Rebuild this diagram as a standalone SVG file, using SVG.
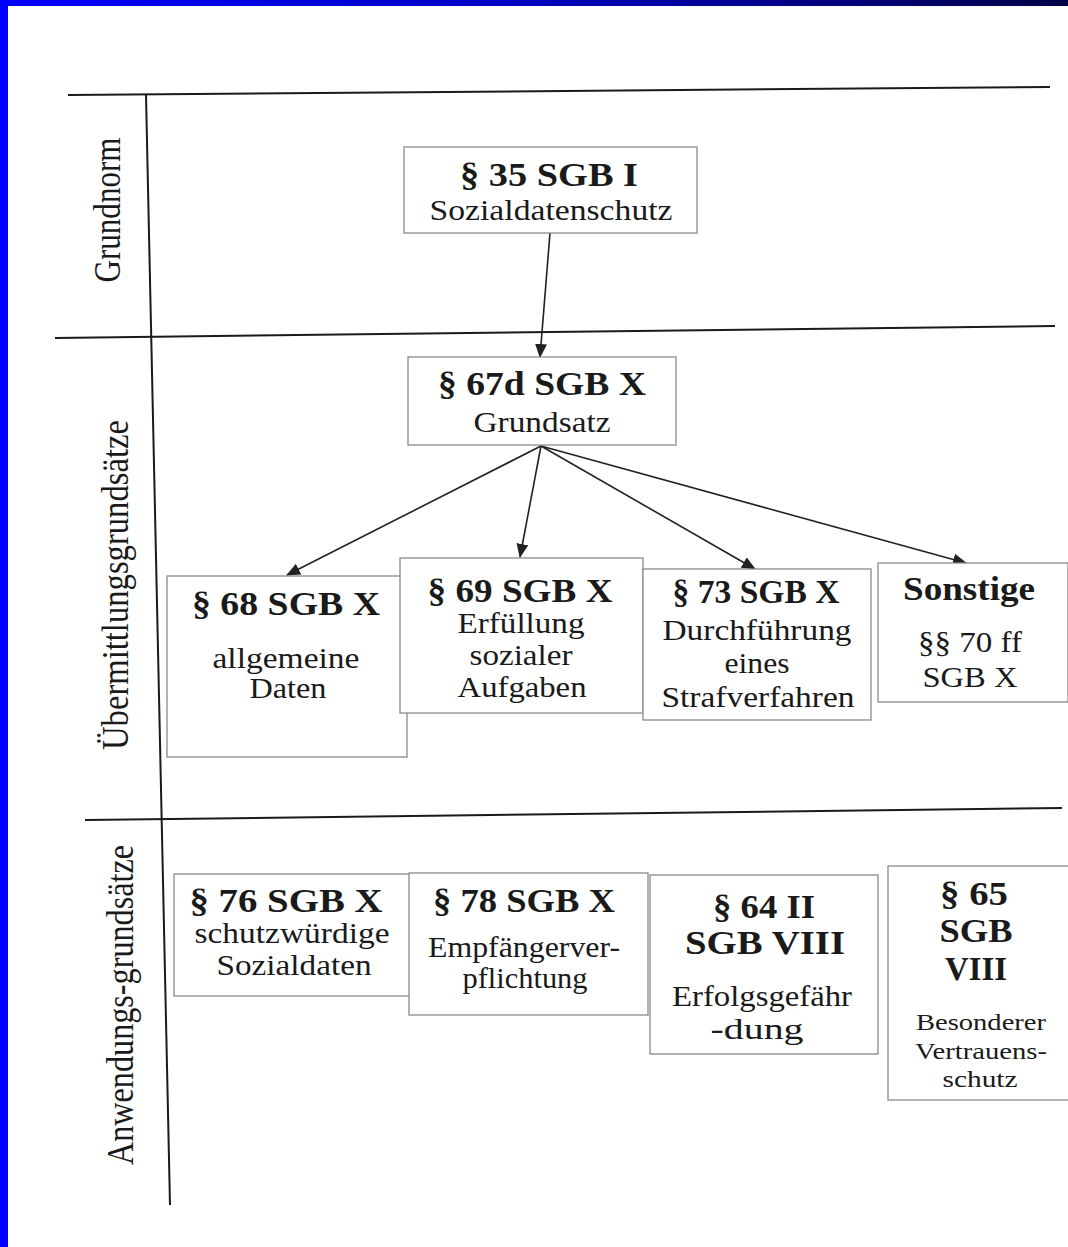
<svg xmlns="http://www.w3.org/2000/svg" width="1068" height="1247" viewBox="0 0 1068 1247">
<defs>
<linearGradient id="topbar" x1="0" y1="0" x2="1" y2="0">
<stop offset="0" stop-color="#0000ff"/>
<stop offset="0.5" stop-color="#0000c0"/>
<stop offset="1" stop-color="#000048"/>
</linearGradient>
<marker id="arr" markerWidth="14" markerHeight="12" refX="13" refY="6" orient="auto" markerUnits="userSpaceOnUse">
<path d="M0,0 L14,6 L0,12 Z" fill="#222"/>
</marker>
<style>
.frame{stroke:#1a1a1a;stroke-width:2;fill:none}
.box{fill:#fff;stroke:#8a8a8a;stroke-width:1.3}
.t{font-family:"Liberation Serif","Times New Roman",serif;fill:#1a1a1a;text-anchor:middle}
.b{font-weight:bold;font-size:34px}
.r{font-size:30px}
.s{font-size:24px}
.lab{font-family:"Liberation Serif","Times New Roman",serif;fill:#1a1a1a;font-size:38px;text-anchor:middle}
.con{stroke:#222;stroke-width:1.6;fill:none;marker-end:url(#arr)}
</style>
</defs>
<rect x="0" y="0" width="1068" height="1247" fill="#fff"/>
<rect x="0" y="0" width="1068" height="6" fill="url(#topbar)"/>
<rect x="0" y="0" width="8" height="1247" fill="#0000ff"/>

<g id="frame">
<line class="frame" x1="68" y1="95" x2="1050" y2="87"/>
<line class="frame" x1="55" y1="338" x2="1055" y2="326"/>
<line class="frame" x1="85" y1="820" x2="1062" y2="808"/>
<line class="frame" x1="146" y1="95" x2="170" y2="1205"/>
</g>

<g id="row-labels">
<text class="lab" transform="translate(120,210) rotate(-90)" textLength="145" lengthAdjust="spacingAndGlyphs">Grundnorm</text>
<text class="lab" transform="translate(128,585) rotate(-90)" textLength="330" lengthAdjust="spacingAndGlyphs">Übermittlungsgrundsätze</text>
<text class="lab" transform="translate(133,1005) rotate(-90)" textLength="320" lengthAdjust="spacingAndGlyphs">Anwendungs-grundsätze</text>
</g>

<g id="connectors">
<line class="con" x1="550" y1="233" x2="540" y2="357"/>
<line class="con" x1="541" y1="446" x2="287" y2="575"/>
<line class="con" x1="541" y1="446" x2="520" y2="557"/>
<line class="con" x1="541" y1="446" x2="755" y2="569"/>
<line class="con" x1="541" y1="446" x2="966" y2="563"/>
</g>

<g id="n35">
<rect class="box" x="404" y="147" width="293" height="86"/>
<text class="t b" x="549" y="186" textLength="178" lengthAdjust="spacingAndGlyphs">§ 35 SGB I</text>
<text class="t r" x="551" y="220" textLength="243" lengthAdjust="spacingAndGlyphs">Sozialdatenschutz</text>
</g>

<g id="n67d">
<rect class="box" x="408" y="357" width="268" height="88"/>
<text class="t b" x="542" y="395" textLength="208" lengthAdjust="spacingAndGlyphs">§ 67d SGB X</text>
<text class="t r" x="542" y="432" textLength="137" lengthAdjust="spacingAndGlyphs">Grundsatz</text>
</g>

<g id="n68">
<rect class="box" x="167" y="576" width="240" height="181"/>
<text class="t b" x="286" y="615" textLength="188" lengthAdjust="spacingAndGlyphs">§ 68 SGB X</text>
<text class="t r" x="286" y="668" textLength="147" lengthAdjust="spacingAndGlyphs">allgemeine</text>
<text class="t r" x="288" y="698" textLength="77" lengthAdjust="spacingAndGlyphs">Daten</text>
</g>

<g id="n69">
<rect class="box" x="400" y="558" width="243" height="155"/>
<text class="t b" x="520" y="602" textLength="185" lengthAdjust="spacingAndGlyphs">§ 69 SGB X</text>
<text class="t r" x="521" y="633" textLength="127" lengthAdjust="spacingAndGlyphs">Erfüllung</text>
<text class="t r" x="521" y="665" textLength="103" lengthAdjust="spacingAndGlyphs">sozialer</text>
<text class="t r" x="522" y="697" textLength="129" lengthAdjust="spacingAndGlyphs">Aufgaben</text>
</g>

<g id="n73">
<rect class="box" x="643" y="569" width="228" height="151"/>
<text class="t b" x="756" y="603" textLength="167" lengthAdjust="spacingAndGlyphs">§ 73 SGB X</text>
<text class="t r" x="757" y="640" textLength="189" lengthAdjust="spacingAndGlyphs">Durchführung</text>
<text class="t r" x="757" y="673" textLength="65" lengthAdjust="spacingAndGlyphs">eines</text>
<text class="t r" x="758" y="707" textLength="193" lengthAdjust="spacingAndGlyphs">Strafverfahren</text>
</g>

<g id="nsonst">
<rect class="box" x="878" y="563" width="190" height="139"/>
<text class="t b" x="969" y="600" textLength="132" lengthAdjust="spacingAndGlyphs">Sonstige</text>
<text class="t r" x="970" y="652" textLength="104" lengthAdjust="spacingAndGlyphs">§§ 70 ff</text>
<text class="t r" x="970" y="687" textLength="95" lengthAdjust="spacingAndGlyphs">SGB X</text>
</g>

<g id="n76">
<rect class="box" x="174" y="874" width="236" height="122"/>
<text class="t b" x="286" y="912" textLength="193" lengthAdjust="spacingAndGlyphs">§ 76 SGB X</text>
<text class="t r" x="292" y="943" textLength="195" lengthAdjust="spacingAndGlyphs">schutzwürdige</text>
<text class="t r" x="294" y="975" textLength="155" lengthAdjust="spacingAndGlyphs">Sozialdaten</text>
</g>

<g id="n78">
<rect class="box" x="409" y="873" width="239" height="142"/>
<text class="t b" x="524" y="912" textLength="182" lengthAdjust="spacingAndGlyphs">§ 78 SGB X</text>
<text class="t r" x="524" y="957" textLength="192" lengthAdjust="spacingAndGlyphs">Empfängerver-</text>
<text class="t r" x="525" y="988" textLength="125" lengthAdjust="spacingAndGlyphs">pflichtung</text>
</g>

<g id="n64">
<rect class="box" x="650" y="875" width="228" height="179"/>
<text class="t b" x="764" y="918" textLength="102" lengthAdjust="spacingAndGlyphs">§ 64 II</text>
<text class="t b" x="765" y="954" textLength="160" lengthAdjust="spacingAndGlyphs">SGB VIII</text>
<text class="t r" x="762" y="1006" textLength="180" lengthAdjust="spacingAndGlyphs">Erfolgsgefähr</text>
<text class="t r" x="757" y="1039" textLength="93" lengthAdjust="spacingAndGlyphs">-dung</text>
</g>

<g id="n65">
<rect class="box" x="888" y="866" width="185" height="234"/>
<text class="t b" x="974" y="905" textLength="68" lengthAdjust="spacingAndGlyphs">§ 65</text>
<text class="t b" x="976" y="942" textLength="73" lengthAdjust="spacingAndGlyphs">SGB</text>
<text class="t b" x="976" y="980" textLength="62" lengthAdjust="spacingAndGlyphs">VIII</text>
<text class="t s" x="981" y="1030" textLength="130" lengthAdjust="spacingAndGlyphs">Besonderer</text>
<text class="t s" x="981" y="1059" textLength="132" lengthAdjust="spacingAndGlyphs">Vertrauens-</text>
<text class="t s" x="980" y="1087" textLength="75" lengthAdjust="spacingAndGlyphs">schutz</text>
</g>
</svg>
